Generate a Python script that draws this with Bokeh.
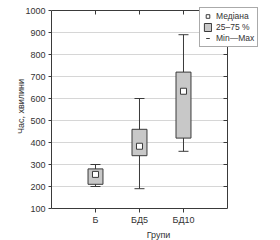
import math
from bokeh.plotting import figure
from bokeh.models import (ColumnDataSource, Whisker, TeeHead, Legend, LegendItem,
                          LinearAxis, SingleIntervalTicker, FixedTicker, Range1d,
                          CustomJSTickFormatter)
from bokeh.embed import file_html
from bokeh.resources import INLINE

# ---- data ----
groups = ["Б", "БД5", "БД10"]
mins = [200, 190, 360]
q1 = [210, 340, 420]
medians = [255, 383, 633]
q3 = [280, 460, 720]
maxs = [300, 600, 890]
y_min, y_max = 100, 1000

FONT = "Liberation Sans"
TXT = "#333333"
LINE = "#3a3a3a"

pos = list(range(1, len(groups) + 1))          # slot of each group on the x axis
x_lo, x_hi = 0, len(groups) + 1                 # drawn plot box
src = ColumnDataSource(dict(x=pos, g=groups, mn=mins, q1=q1, med=medians, q3=q3, mx=maxs))

p = figure(frame_width=214, frame_height=204,
           x_range=Range1d(x_lo, x_hi + 0.864),   # extra room on the right for the legend
           y_range=Range1d(y_min, y_max + 27.3),  # extra room on top for the legend
           output_backend="svg", toolbar_location=None,
           min_border_left=51, min_border_right=15, min_border_top=4, min_border_bottom=32)

p.outline_line_color = None
p.background_fill_color = "white"
p.border_fill_color = "white"

p.xgrid.grid_line_color = None
p.ygrid.grid_line_color = "#d6d6d6"
p.ygrid.grid_line_width = 1
p.ygrid.ticker = SingleIntervalTicker(interval=100)
p.ygrid.cross_bounds = (x_lo, x_hi)

wh = Whisker(source=src, base="x", lower="mn", upper="mx", dimension="height",
             line_color=LINE, line_width=1,
             upper_head=TeeHead(size=10, line_color=LINE, line_width=1),
             lower_head=TeeHead(size=10, line_color=LINE, line_width=1),
             level="underlay")
p.add_layout(wh)

# vertical stroke lying on each whisker line (also serves as the Min—Max legend glyph)
mm = p.scatter(x="x", y="med", source=src, marker="dash", angle=math.pi / 2, size=11,
               line_color=LINE, line_width=1)
box = p.vbar(x="x", bottom="q1", top="q3", width=0.34, source=src,
             fill_color="#c8c8c8", line_color=LINE, line_width=1)
med = p.scatter(x="x", y="med", source=src, marker="square", size=6,
                fill_color="white", line_color=LINE, line_width=1)

for ax in (p.xaxis[0], p.yaxis[0]):
    ax.axis_line_color = LINE
    ax.major_tick_line_color = LINE
    ax.major_tick_in = 0
    ax.major_tick_out = 3
    ax.minor_tick_line_color = None
    ax.major_label_text_font = FONT
    ax.major_label_text_font_size = "9px"
    ax.major_label_text_color = TXT
    ax.axis_label_text_font = FONT
    ax.axis_label_text_font_size = "9px"
    ax.axis_label_text_font_style = "normal"
    ax.axis_label_text_color = TXT
    ax.major_label_standoff = 2

p.xaxis[0].ticker = FixedTicker(ticks=pos)
p.xaxis[0].major_label_overrides = {k: g for k, g in zip(pos, groups)}
p.xaxis[0].bounds = (x_lo, x_hi)
p.xaxis[0].major_tick_out = 4
p.xaxis[0].axis_label = "Групи"
p.xaxis[0].axis_label_standoff = 2

p.yaxis[0].ticker = SingleIntervalTicker(interval=100)
p.yaxis[0].bounds = (y_min, y_max)
p.yaxis[0].axis_label = "Час, хвилини"
p.yaxis[0].axis_label_standoff = -4

blank = CustomJSTickFormatter(code="return ''")
top = LinearAxis(ticker=FixedTicker(ticks=pos), bounds=(x_lo, x_hi), fixed_location=y_max,
                 axis_line_color=LINE, major_tick_line_color=LINE,
                 major_tick_in=4, major_tick_out=0, minor_tick_line_color=None,
                 formatter=blank, major_label_standoff=0)
right = LinearAxis(ticker=SingleIntervalTicker(interval=100), bounds=(y_min, y_max),
                   fixed_location=x_hi,
                   axis_line_color=LINE, major_tick_line_color=LINE,
                   major_tick_in=4, major_tick_out=0, minor_tick_line_color=None,
                   formatter=blank, major_label_standoff=0)
p.add_layout(top, "above")
p.add_layout(right, "right")

legend = Legend(items=[LegendItem(label="Медіана", renderers=[med]),
                       LegendItem(label="25–75 %", renderers=[box]),
                       LegendItem(label="Min—Max", renderers=[mm])],
                location=(148, 161), orientation="vertical",
                label_text_font=FONT, label_text_font_size="8.5px", label_text_color=TXT,
                label_height=10, glyph_height=10, glyph_width=9, label_standoff=4,
                spacing=1, padding=3, margin=0,
                border_line_color="#555555", border_line_width=1,
                background_fill_color="white", background_fill_alpha=1.0)
p.add_layout(legend, "center")

open("out.html", "w").write(file_html(p, INLINE))
